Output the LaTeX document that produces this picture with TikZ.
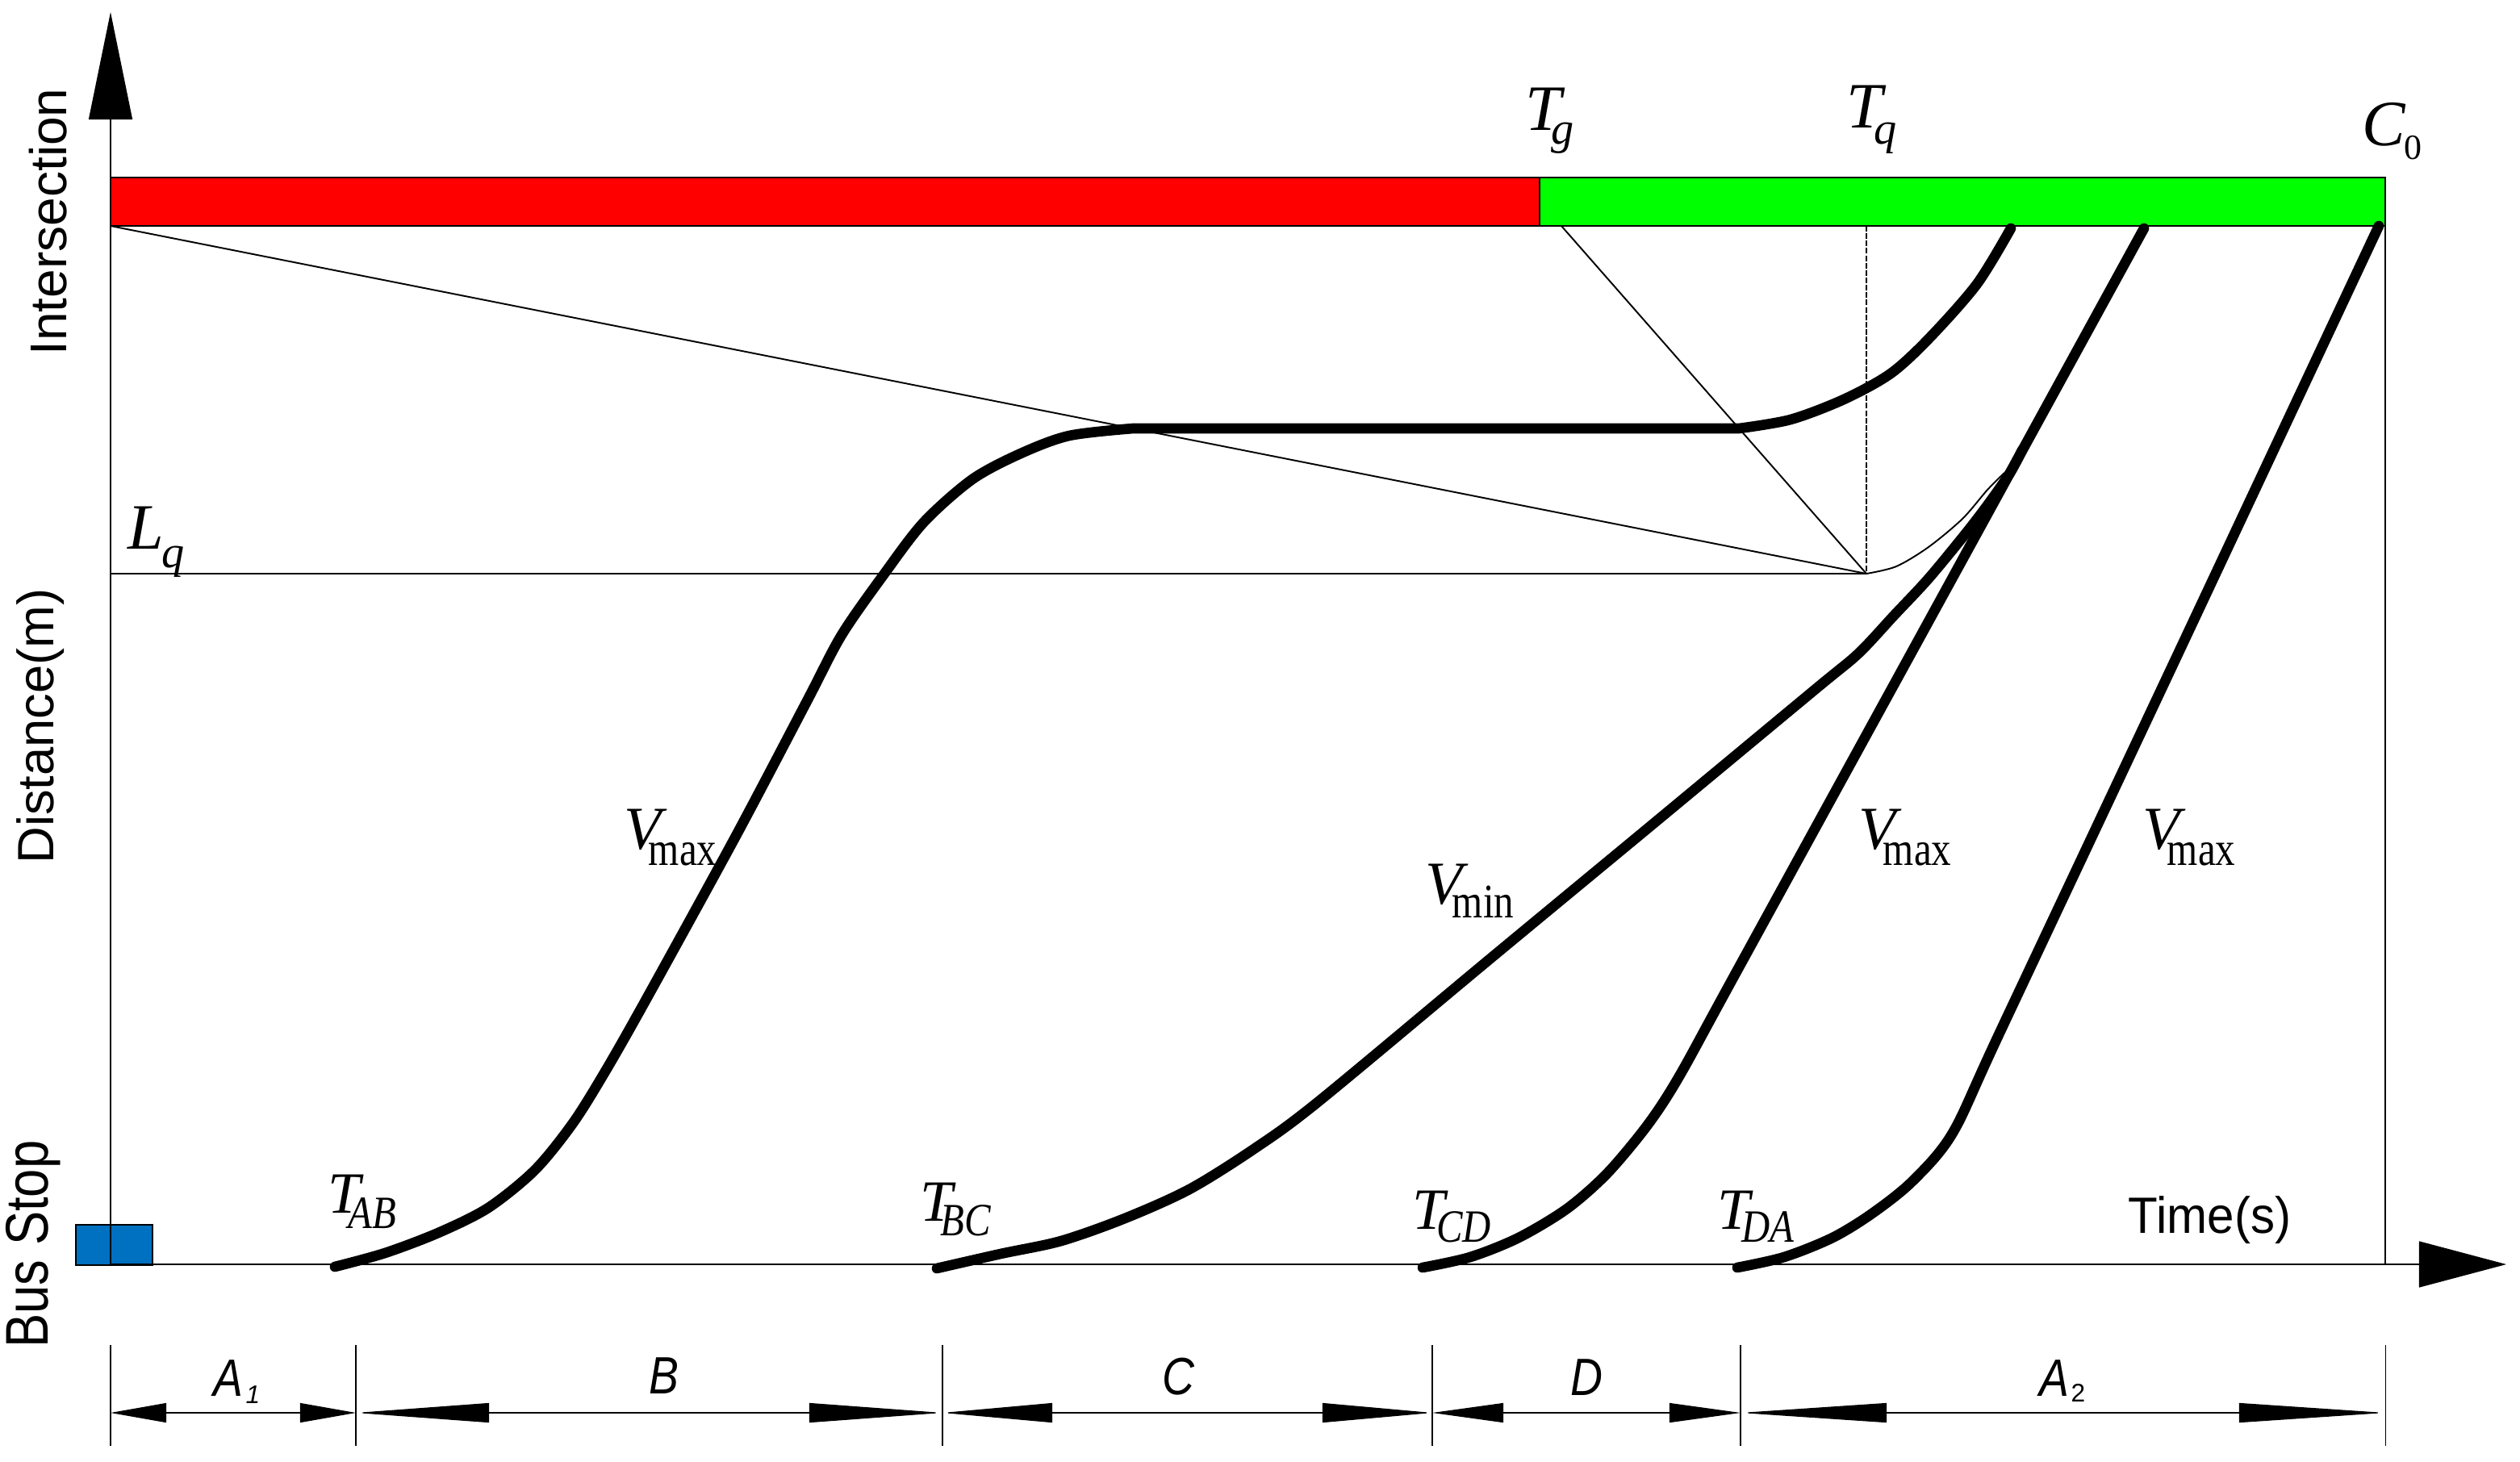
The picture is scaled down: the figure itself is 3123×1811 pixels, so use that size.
\documentclass[tikz,border=0pt]{standalone}
\usepackage{fontspec}
\setmainfont{Liberation Serif}
\setsansfont{Liberation Sans}
\usetikzlibrary{arrows.meta}
\definecolor{sigred}{RGB}{255,0,0}
\definecolor{siggreen}{RGB}{0,255,0}
\definecolor{stopblue}{RGB}{0,112,192}
\newcommand{\lab}[6]{{\fontsize{#1}{#1}\selectfont #2}\kern#3\raisebox{-#4}{\fontsize{#5}{#5}\selectfont #6}}
\tikzset{
  axisline/.style={line width=0.4pt},
  thinline/.style={line width=0.55pt},
  fineline/.style={line width=0.35pt},
  busline/.style={line width=3.6pt, line cap=round, line join=round},
  lbl/.style={inner sep=0pt, anchor=base west},
  vlbl/.style={inner sep=0pt, anchor=base, rotate=90},
  dimline/.style={line width=0.35pt},
  tickline/.style={line width=0.3pt},
}
\begin{document}
\begin{tikzpicture}[x=0.01cm,y=-0.01cm]
\useasboundingbox (0,0) rectangle (3123,1811);

% key coordinates
\coordinate (O) at (137,1567);
\coordinate (Ytip) at (137,15);
\coordinate (Xtip) at (3106,1567);
\coordinate (BL) at (137,280);
\coordinate (TgB) at (1935,280);
\coordinate (TqB) at (2313,280);
\coordinate (Q) at (2313,711);
\coordinate (LqL) at (137,711);
\coordinate (CB) at (2956,280);
\coordinate (CA) at (2956,1567);

% signal bar
\fill[sigred] (137,220) rectangle (1908,280);
\fill[siggreen] (1908,220) rectangle (2956,280);
\draw[line width=0.75pt] (137,220) rectangle (2956,280);
\draw[line width=0.4pt] (1908,220) -- (1908,280);

% bus stop
\draw[fill=stopblue, line width=0.6pt] (94,1518) rectangle (189,1568);

% axes
\draw[axisline, -{Triangle[length=1.33cm,width=0.54cm]}] (O) -- (Ytip);
\draw[axisline, -{Triangle[length=1.08cm,width=0.57cm]}] (O) -- (Xtip);
\draw[axisline] (CB) -- (CA);

% thin construction lines
\draw[thinline] (BL) -- (Q);
\draw[thinline] (TgB) -- (Q);
\draw[fineline, dash pattern=on 2pt off 0.6pt] (TqB) -- (Q);
\draw[fineline] (LqL) -- (Q);
\draw[thinline] plot[smooth] coordinates {(2313,711) (2350,702) (2390,678) (2432,643) (2463,607) (2484,586)};

% trajectories
\draw[busline] plot[smooth] coordinates {(415,1570) (477,1553) (543,1528) (605,1497) (663,1450) (710,1392) (750,1328) (800,1240) (912,1036) (1000,869) (1043,787) (1096,711) (1145,647) (1205,594) (1265,562) (1325,540) (1404,531)}
  -- (2155,531)
  -- plot[smooth] coordinates {(2155,531) (2219,520) (2285,495) (2343,463) (2391,419) (2450,352) (2492,283)};
\draw[busline] plot[smooth] coordinates {(1161,1572) (1240,1554) (1315,1538) (1394,1510) (1474,1474) (1554,1424) (1633,1366) (1847,1188) (2050,1020) (2250,854) (2303,810) (2347,763) (2390,717) (2437,660) (2466,622) (2491,586) (2506,558)};
\draw[busline] plot[smooth] coordinates {(1763,1571) (1822,1558) (1882,1534) (1942,1498) (1992,1454) (2042,1394) (2081,1334) (2150,1208) (2400,752) (2657,283)};
\draw[busline] plot[smooth] coordinates {(2153,1571) (2211,1558) (2271,1534) (2320,1504) (2370,1464) (2420,1404) (2480,1276) (2704,800) (2948,280)};

% axis labels
\node[vlbl] (yint) at (82,275) {\sffamily\fontsize{18.2pt}{18pt}\selectfont Intersection};
\node[vlbl] (ydist) at (67,900) {\sffamily\fontsize{18pt}{18pt}\selectfont Distance(m)};
\node[vlbl] (ybus) at (60,1542) {\sffamily\fontsize{18pt}{18pt}\selectfont\scalebox{1}[1.18]{Bus Stop}};
\node[lbl] (time) at (2637,1528) {\sffamily\fontsize{18pt}{18pt}\selectfont\scalebox{0.95}[1]{Time(s)}};

% top labels
\node[lbl] (tg) at (1890,161) {\lab{22.8pt}{\itshape T}{-0.13cm}{0.17cm}{16pt}{\itshape g}};
\node[lbl] (tq) at (2288,158) {\lab{22.8pt}{\itshape T}{-0.11cm}{0.20cm}{16pt}{\itshape q}};
\node[lbl] (c0) at (2927,180) {\lab{22.8pt}{\itshape C}{-0.02cm}{0.17cm}{12.5pt}{0}};
\node[lbl] (lq) at (158,680) {\lab{22.8pt}{\itshape L}{-0.03cm}{0.23cm}{16pt}{\itshape q}};

% speed labels
\node[lbl] (v1) at (773,1052) {\lab{21.5pt}{\itshape V}{-0.16cm}{0.20cm}{17pt}{\scalebox{0.82}[1]{max}}};
\node[lbl] (v2) at (1766,1120) {\lab{21.5pt}{\itshape V}{-0.13cm}{0.17cm}{17pt}{\scalebox{0.82}[1]{min}}};
\node[lbl] (v3) at (2303,1052) {\lab{21.5pt}{\itshape V}{-0.16cm}{0.20cm}{17pt}{\scalebox{0.82}[1]{max}}};
\node[lbl] (v4) at (2655,1052) {\lab{21.5pt}{\itshape V}{-0.16cm}{0.20cm}{17pt}{\scalebox{0.82}[1]{max}}};

% departure labels
\node[lbl] (tab) at (406,1503) {\lab{20.6pt}{\itshape T}{-0.15cm}{0.19cm}{16.3pt}{\itshape\scalebox{0.85}[1]{AB}}};
\node[lbl] (tbc) at (1140,1513) {\lab{20.6pt}{\itshape T}{-0.15cm}{0.18cm}{16.3pt}{\itshape\scalebox{0.85}[1]{BC}}};
\node[lbl] (tcd) at (1750,1523) {\lab{20.6pt}{\itshape T}{-0.11cm}{0.16cm}{16.3pt}{\itshape\scalebox{0.85}[1]{CD}}};
\node[lbl] (tda) at (2128,1523) {\lab{20.6pt}{\itshape T}{-0.11cm}{0.16cm}{16.3pt}{\itshape\scalebox{0.85}[1]{DA}}};

% phase dimension row
\coordinate (d0) at (137,1751);
\coordinate (d1) at (441,1751);
\coordinate (d2) at (1168,1751);
\coordinate (d3) at (1775,1751);
\coordinate (d4) at (2157,1751);
\coordinate (d5) at (2956,1751);
\foreach \xx in {137,441,1168,1775,2157,2956} {\draw[tickline] (\xx,1667) -- (\xx,1792);}
\draw[dimline, {Triangle[length=0.69cm,width=0.24cm]}-{Triangle[length=0.69cm,width=0.24cm]}] (d0) -- (d1);
\draw[dimline, {Triangle[length=1.65cm,width=0.24cm]}-{Triangle[length=1.65cm,width=0.24cm]}] (d1) -- (d2);
\draw[dimline, {Triangle[length=1.36cm,width=0.24cm]}-{Triangle[length=1.36cm,width=0.24cm]}] (d2) -- (d3);
\draw[dimline, {Triangle[length=0.88cm,width=0.24cm]}-{Triangle[length=0.88cm,width=0.24cm]}] (d3) -- (d4);
\draw[dimline, {Triangle[length=1.81cm,width=0.24cm]}-{Triangle[length=1.81cm,width=0.24cm]}] (d4) -- (d5);

\node[lbl] (pA1) at (264,1730) {\sffamily\itshape\scalebox{0.85}[1]{\fontsize{18.5pt}{18.5pt}\selectfont A}\kern0.03cm\raisebox{-0.09cm}{\fontsize{9pt}{9pt}\selectfont 1}};
\node[lbl] (pB) at (804,1727) {\sffamily\itshape\scalebox{0.85}[1]{\fontsize{18.5pt}{18.5pt}\selectfont B}};
\node[lbl] (pC) at (1440,1728) {\sffamily\itshape\scalebox{0.85}[1]{\fontsize{18.5pt}{18.5pt}\selectfont C}};
\node[lbl] (pD) at (1946,1729) {\sffamily\itshape\scalebox{0.85}[1]{\fontsize{18.5pt}{18.5pt}\selectfont D}};
\node[lbl] (pA2) at (2527,1730) {\sffamily\itshape\scalebox{0.85}[1]{\fontsize{18.5pt}{18.5pt}\selectfont A}\kern0.02cm\raisebox{-0.07cm}{\upshape\fontsize{9pt}{9pt}\selectfont 2}};
\end{tikzpicture}
\end{document}
